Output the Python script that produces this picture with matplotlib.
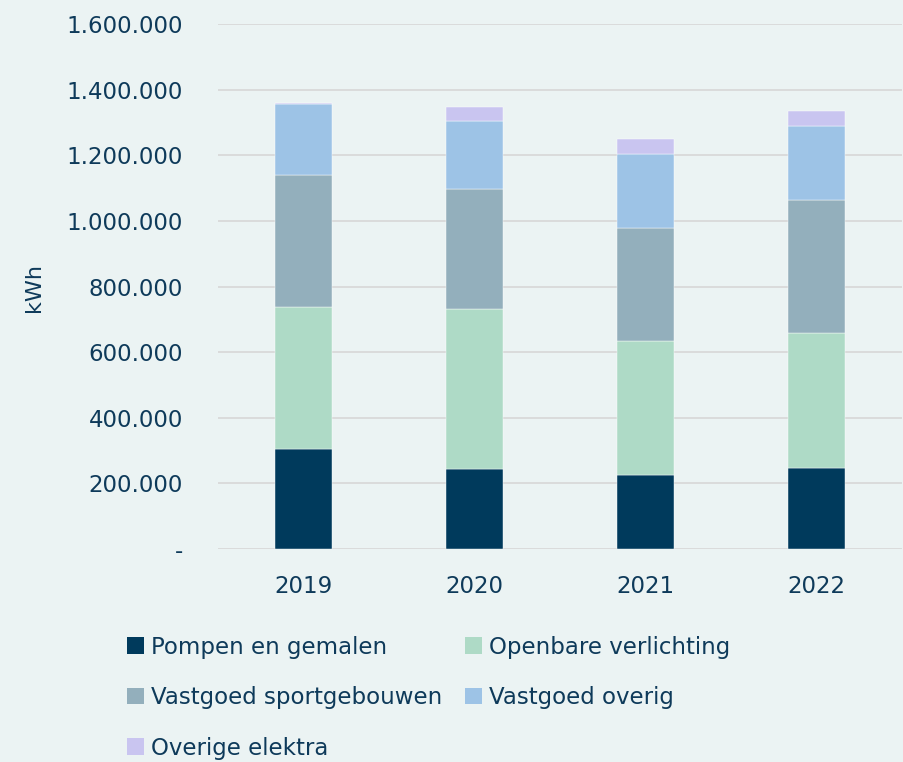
"""Stacked bar chart of electricity use (kWh) per category, 2019-2022."""

import matplotlib.pyplot as plt
from matplotlib.patches import Patch
from matplotlib.ticker import FuncFormatter

YEARS = ["2019", "2020", "2021", "2022"]

POMPEN = [304000, 245000, 225600, 247000]
OPENBARE = [435000, 485500, 409200, 410100]
SPORT = [401000, 367300, 342900, 407000]
OVERIG = [217000, 206700, 226900, 226000]
ELEKTRA = [3000, 42700, 44900, 43900]

SERIES = [
    ("Pompen en gemalen", POMPEN, "#003A5C"),
    ("Openbare verlichting", OPENBARE, "#AEDAC6"),
    ("Vastgoed sportgebouwen", SPORT, "#93AFBC"),
    ("Vastgoed overig", OVERIG, "#9DC3E6"),
    ("Overige elektra", ELEKTRA, "#C9C5F0"),
]

BG = "#EBF3F3"
TEXT = "#0E3A5A"


def fmt(value, _pos):
    if value == 0:
        return "-"
    return f"{value:,.0f}".replace(",", ".")


def main():
    fig = plt.figure(figsize=(9.04, 7.62), dpi=100, facecolor=BG)
    ax = fig.add_axes([0.241, 0.2795, 0.757, 0.689], facecolor=BG)

    x = list(range(len(YEARS)))
    bottoms = [0] * len(YEARS)
    handles = []
    for label, values, color in SERIES:
        ax.bar(x, values, width=0.33, bottom=bottoms, color=color,
               edgecolor="white", linewidth=0.3, zorder=3)
        bottoms = [b + v for b, v in zip(bottoms, values)]
        handles.append(Patch(facecolor=color, label=label))

    ax.set_xlim(-0.5, 3.5)
    ax.set_ylim(0, 1600000)
    ax.set_yticks(range(0, 1600001, 200000))
    ax.yaxis.set_major_formatter(FuncFormatter(fmt))
    ax.set_xticks(x)
    ax.set_xticklabels(YEARS)
    ax.grid(axis="y", color="#D9D9D9", linewidth=1.3, zorder=0)
    for spine in ax.spines.values():
        spine.set_visible(False)
    ax.tick_params(axis="both", length=0, colors=TEXT, labelsize=16.5)
    ax.tick_params(axis="y", pad=25)
    ax.tick_params(axis="x", pad=19)
    ax.set_ylabel("kWh", color=TEXT, fontsize=16)
    ax.yaxis.set_label_coords(-0.254, 0.499)

    # legend fills column by column, so reorder to read row by row
    order = [0, 2, 4, 1, 3]
    fig.legend([handles[i] for i in order], [handles[i].get_label() for i in order],
               loc="upper left", bbox_to_anchor=(0.1405, 0.166), ncol=2,
               frameon=False, fontsize=16.5, labelcolor=TEXT,
               handlelength=0.74, handleheight=0.74, handletextpad=0.3,
               labelspacing=1.2, columnspacing=1.0, borderpad=0, borderaxespad=0)

    fig.savefig("out.png", dpi=100, facecolor=BG)
    plt.close(fig)


if __name__ == "__main__":
    main()
